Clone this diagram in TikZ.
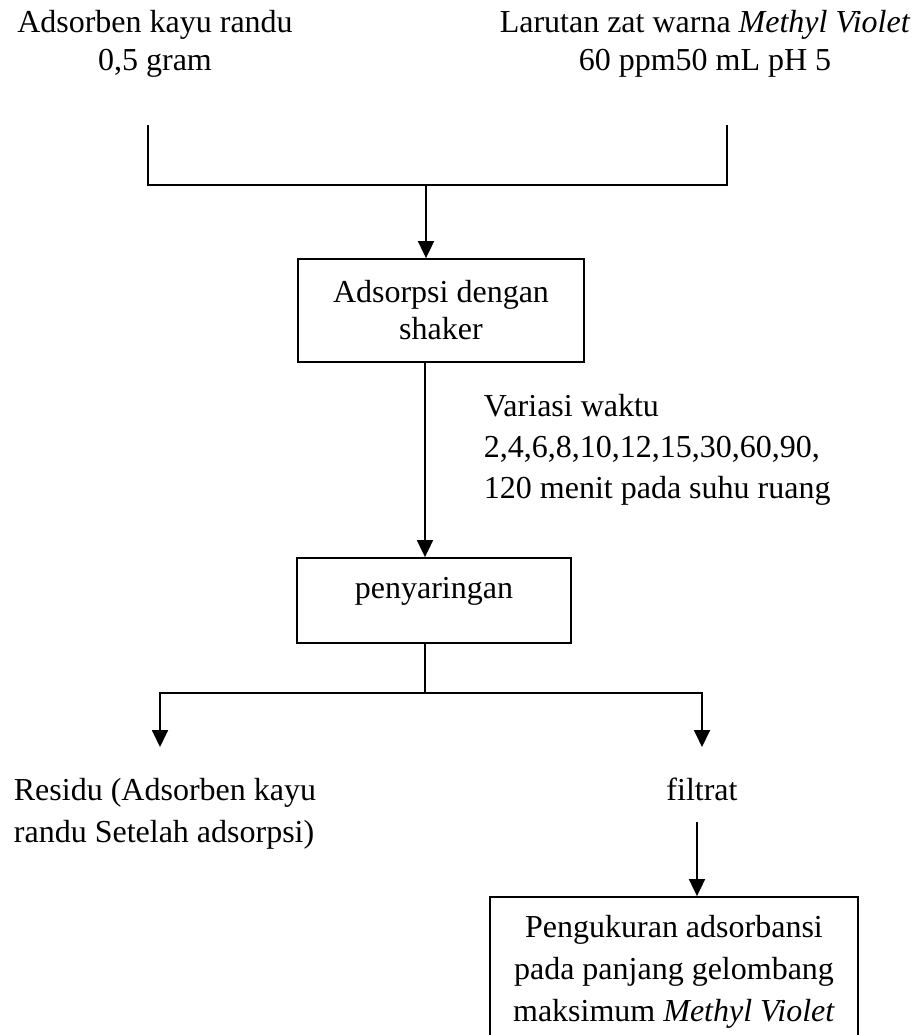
\documentclass[tikz,border=0pt]{standalone}
\usepackage{fontspec}
\setmainfont{Liberation Serif}
\usetikzlibrary{arrows.meta}
\begin{document}
\begin{tikzpicture}[x=1pt,y=-1pt,
  line width=1.8pt,
  lbl/.style={inner sep=0pt},
  box/.style={draw, inner sep=0pt, align=center},
  arr/.style={-{Triangle[width=16pt,length=17pt]}}]
\useasboundingbox (0,0) rectangle (920,1035);
\clip (0,0) rectangle (920,1035);
% top labels (anchor base = last line)
\node[lbl, anchor=base, align=center, font=\fontsize{32}{38}\selectfont] (adsb) at (155,71) {Adsorben kayu randu\\0,5 gram};
\node[lbl, anchor=base, align=center, font=\fontsize{32}{38}\selectfont] (larutan) at (705,71) {Larutan zat warna \textit{Methyl Violet}\\60 ppm50 mL pH 5};
% bracket
\coordinate (tl) at (148,125);
\coordinate (tr) at (727,125);
\coordinate (j) at (426,185);
\draw (tl) -- (tl |- j) -- (tr |- j) -- (tr);
% adsorpsi
\node[box, minimum width=286pt, minimum height=103pt, font=\fontsize{32}{37}\selectfont] (ads) at (441,310.5) {Adsorpsi dengan\\shaker};
\draw[arr] (j) -- (j |- ads.north);
\coordinate (sp) at (425,0);
\node[lbl, anchor=base west, align=left, font=\fontsize{32}{41}\selectfont] (var) at (483,498) {Variasi waktu\\2,4,6,8,10,12,15,30,60,90,\\120 menit pada suhu ruang};
% penyaringan
\node[box, minimum width=274pt, minimum height=85pt, text height=20pt, text depth=25pt, font=\fontsize{32}{38}\selectfont] (pen) at (434,600.5) {penyaringan};
\draw[arr] (sp |- ads.south) -- (sp |- pen.north);
% split
\coordinate (bl) at (160,693);
\coordinate (br) at (702,693);
\coordinate (blt) at (160,747);
\coordinate (brt) at (702,747);
\draw (sp |- pen.south) -- (sp |- bl);
\draw[arr] (sp |- bl) -- (bl) -- (blt);
\draw[arr] (sp |- br) -- (br) -- (brt);
% outputs
\node[lbl, anchor=base west, align=left, font=\fontsize{32}{42}\selectfont] (res) at (13,842) {Residu (Adsorben kayu\\randu Setelah adsorpsi)};
\node[lbl, anchor=base, font=\fontsize{32}{38}\selectfont] (fil) at (702,800) {filtrat};
\coordinate (fa) at (697,822);
\node[box, minimum width=368pt, minimum height=149pt, font=\fontsize{32}{42}\selectfont] (peng) at (674,971.5) {Pengukuran adsorbansi\\pada panjang gelombang\\maksimum \textit{Methyl Violet}};
\draw[arr] (fa) -- (fa |- peng.north);
\end{tikzpicture}
\end{document}
